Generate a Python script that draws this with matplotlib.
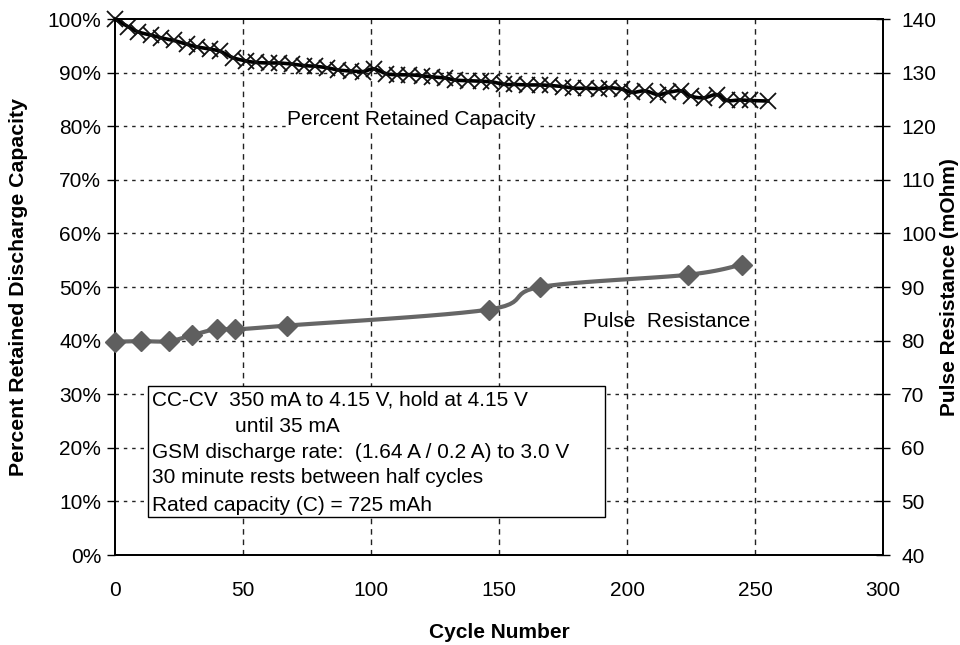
import numpy as np
import matplotlib
matplotlib.use("Agg")
import matplotlib.pyplot as plt
from matplotlib.patches import Rectangle
from matplotlib.ticker import FuncFormatter

plt.rcParams['font.family'] = ['Liberation Sans', 'DejaVu Sans']

# Percent retained discharge capacity vs cycle number
cap_cycles = [0, 5, 9, 14, 18, 23, 28, 32, 37, 41, 46, 51, 55, 60, 64, 69, 74,
              78, 83, 87, 92, 97, 101, 106, 110, 115, 120, 124, 129, 133, 138,
              143, 147, 152, 156, 161, 166, 170, 175, 179, 184, 189, 193, 198,
              202, 207, 212, 216, 221, 225, 230, 235, 239, 244, 248, 255]
cap_pct = [100.0, 98.6, 97.6, 97.0, 96.5, 96.0, 95.3, 94.8, 94.4, 94.0, 92.8,
           92.2, 91.9, 91.8, 91.8, 91.6, 91.3, 91.2, 90.9, 90.5, 90.3, 90.2,
           90.7, 89.8, 89.6, 89.6, 89.4, 89.2, 89.0, 88.6, 88.5, 88.4, 88.3,
           87.8, 87.8, 87.7, 87.7, 87.6, 87.4, 87.1, 87.1, 87.0, 87.2, 86.9,
           86.3, 86.6, 85.9, 86.3, 86.6, 85.6, 85.3, 85.9, 84.8, 84.9, 84.8,
           84.7]

# Pulse resistance (mOhm) vs cycle number
res_cycles = [0, 10, 21, 30, 40, 47, 67, 146, 166, 224, 245]
res_mohm = [79.8, 79.9, 79.9, 81.0, 82.2, 82.1, 82.8, 85.8, 90.0, 92.3, 94.2]

x_ticks = [0, 50, 100, 150, 200, 250, 300]
left_ticks = [0, 10, 20, 30, 40, 50, 60, 70, 80, 90, 100]
right_ticks = [40, 50, 60, 70, 80, 90, 100, 110, 120, 130, 140]

notes = [
    "CC-CV  350 mA to 4.15 V, hold at 4.15 V",
    "until 35 mA",
    "GSM discharge rate:  (1.64 A / 0.2 A) to 3.0 V",
    "30 minute rests between half cycles",
    "Rated capacity (C) = 725 mAh",
]

FS = 15


def smooth(x, y, n=12):
    """Catmull-Rom curve through the points (spreadsheet-style smoothed line)."""
    x = np.asarray(x, float)
    y = np.asarray(y, float)
    px = np.concatenate([[x[0]], x, [x[-1]]])
    py = np.concatenate([[y[0]], y, [y[-1]]])
    xs, ys = [], []
    t = np.linspace(0, 1, n, endpoint=False)
    for i in range(1, len(px) - 2):
        p0, p1, p2, p3 = (np.array([px[j], py[j]]) for j in range(i - 1, i + 3))
        b1 = p1 + (p2 - p0) / 6.0
        b2 = p2 - (p3 - p1) / 6.0
        pts = ((1 - t) ** 3)[:, None] * p1 + (3 * (1 - t) ** 2 * t)[:, None] * b1 \
            + (3 * (1 - t) * t ** 2)[:, None] * b2 + (t ** 3)[:, None] * p2
        xs.append(pts[:, 0])
        ys.append(pts[:, 1])
    xs.append([x[-1]])
    ys.append([y[-1]])
    return np.concatenate(xs), np.concatenate(ys)


fig = plt.figure(figsize=(9.6, 6.45), dpi=100)
ax = fig.add_axes([0.1198, 0.1395, 0.8, 0.8310])
ax2 = ax.twinx()

ax.set_xlim(0, 300)
ax.set_ylim(0, 100)
ax2.set_ylim(40, 140)

# grid
for v in left_ticks[1:-1]:
    ax.axhline(v, color='#222222', lw=1.0, ls=(0, (2.5, 3.5)), zorder=1)
for v in x_ticks[1:-1]:
    ax.axvline(v, color='#222222', lw=1.0, ls=(0, (4, 3.5)), zorder=1)

# capacity curve
sx, sy = smooth(cap_cycles, cap_pct)
ax.plot(sx, sy, color='black', lw=2.6, zorder=4, clip_on=False)
ax.plot(cap_cycles, cap_pct, ls='none', marker='x', ms=12, mew=1.3,
        color='#111111', zorder=5, clip_on=False)

# pulse resistance curve
rx, ry = smooth(res_cycles, res_mohm)
ax2.plot(rx, ry, color='#666666', lw=3.0, zorder=4, clip_on=False)
ax2.plot(res_cycles, res_mohm, ls='none', marker='D', ms=10.5,
         color='#5f5f5f', zorder=5, clip_on=False)

# series labels
ax.text(67.2, 81.3, "Percent Retained Capacity", fontsize=FS, va='center',
        ha='left', zorder=3,
        bbox=dict(facecolor='white', edgecolor='none', pad=1.0))
ax.text(182.8, 43.5, "Pulse  Resistance", fontsize=FS, va='center',
        ha='left', zorder=3)

# test conditions box
ax.add_patch(Rectangle((12.9, 7.1), 191.4 - 12.9, 31.5 - 7.1,
                       facecolor='white', edgecolor='black', lw=1.0, zorder=3))
note_y = [28.9, 23.9, 19.2, 14.4, 9.3]
note_x = [14.6, 46.9, 14.6, 14.6, 14.6]
for s, xx, yy in zip(notes, note_x, note_y):
    ax.text(xx, yy, s, fontsize=FS, va='center', ha='left', zorder=3.5)

# axes, ticks, labels
for a in (ax, ax2):
    for sp in a.spines.values():
        sp.set_linewidth(1.3)
        sp.set_color('black')

ax.set_xticks(x_ticks)
ax.set_yticks(left_ticks)
ax.yaxis.set_major_formatter(FuncFormatter(lambda v, p: f"{v:.0f}%"))
ax.tick_params(axis='x', length=0, pad=19, labelsize=FS)
ax.tick_params(axis='y', direction='out', length=6, width=1.0, pad=4,
               labelsize=FS)
ax2.set_yticks(right_ticks)
ax2.tick_params(axis='y', direction='inout', length=10, width=1.0, pad=8,
                labelsize=FS)

ax.set_xlabel("Cycle Number", fontsize=FS, fontweight='bold', labelpad=16)
ax.set_ylabel("Percent Retained Discharge Capacity", fontsize=15.3,
              fontweight='bold', labelpad=14)
ax2.set_ylabel("Pulse Resistance (mOhm)", fontsize=FS, fontweight='bold',
               labelpad=3)

fig.savefig("out.png", dpi=100, facecolor='white')
